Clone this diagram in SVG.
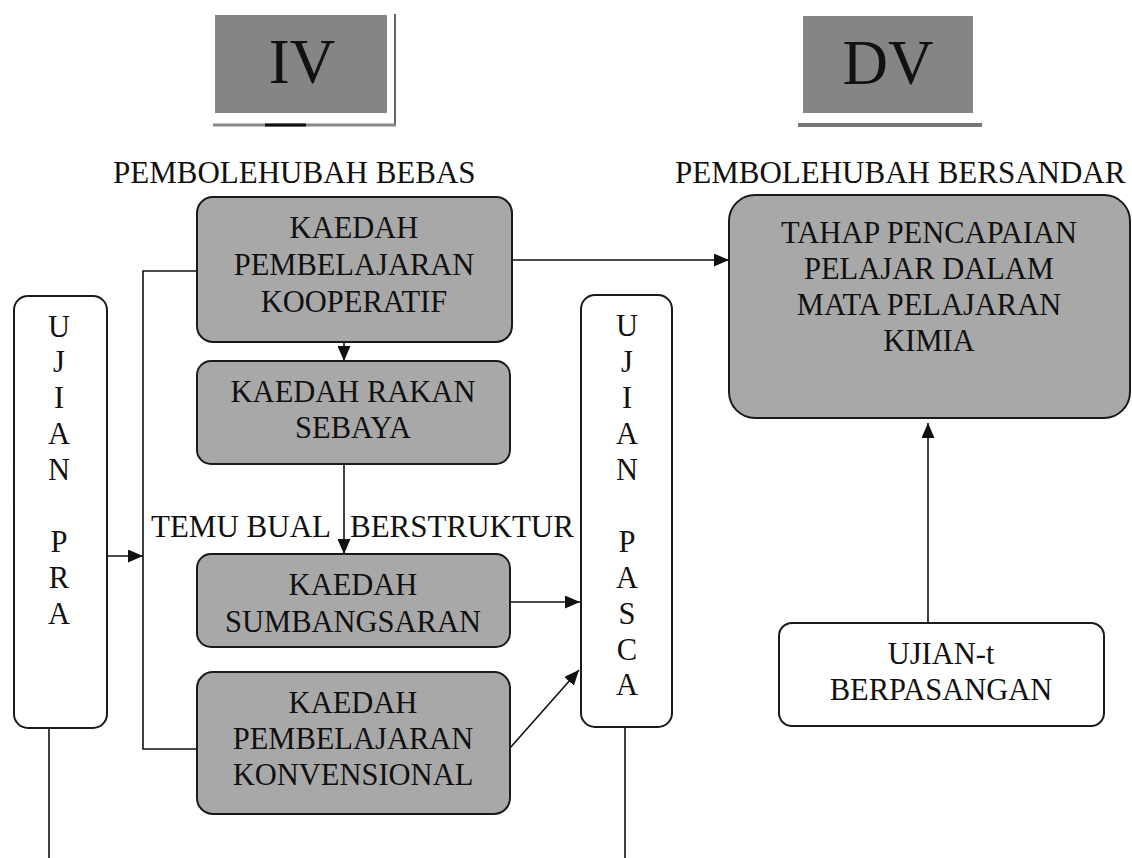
<svg xmlns="http://www.w3.org/2000/svg" width="1132" height="858" viewBox="0 0 1132 858" font-family="'Liberation Serif', 'Times New Roman', 'DejaVu Serif', serif">
<style>
text{font-family:'Liberation Serif','Times New Roman','DejaVu Serif',serif;fill:#111;}
.t{font-size:30.5px;text-anchor:middle;}
.lab{font-size:31px;}
.big{font-size:63px;text-anchor:middle;}
.g{fill:#a8a8a8;stroke:#1a1a1a;stroke-width:2;}
.w{fill:#fff;stroke:#1a1a1a;stroke-width:2;}
.c{fill:none;stroke:#111;stroke-width:1.6;}
</style>
<defs>
<marker id="ah" markerWidth="15" markerHeight="13" refX="15" refY="6.5" orient="auto" markerUnits="userSpaceOnUse">
<path d="M0,0 L15,6.5 L0,13 Z" fill="#111"/>
</marker>
</defs>
<rect width="1132" height="858" fill="#fff"/>

<g id="iv">
<rect x="215" y="15" width="172" height="98" fill="#858585"/>
<line x1="395" y1="14" x2="395" y2="126" stroke="#333" stroke-width="1.5"/>
<line x1="213" y1="125" x2="396" y2="125" stroke="#888" stroke-width="3"/>
<line x1="265" y1="125" x2="306" y2="125" stroke="#111" stroke-width="3"/>
<text class="big" x="302" y="83">IV</text>
</g>
<g id="dv">
<rect x="803" y="16" width="170" height="97" fill="#858585"/>
<line x1="798" y1="125" x2="982" y2="125" stroke="#777" stroke-width="4"/>
<text class="big" x="888" y="84">DV</text>
</g>
<text class="lab" x="113" y="183">PEMBOLEHUBAH BEBAS</text>
<text class="lab" x="675" y="183">PEMBOLEHUBAH BERSANDAR</text>

<g id="connectors">
<line class="c" x1="512" y1="260" x2="729" y2="260" marker-end="url(#ah)"/>
<line class="c" x1="344" y1="342" x2="344" y2="361" marker-end="url(#ah)"/>
<line class="c" x1="344" y1="464" x2="344" y2="554" marker-end="url(#ah)"/>
<polyline class="c" points="197,271 143,271 143,749 197,749"/>
<line class="c" x1="107" y1="556" x2="143" y2="556" marker-end="url(#ah)"/>
<line class="c" x1="510" y1="602" x2="580" y2="602" marker-end="url(#ah)"/>
<line class="c" x1="510" y1="748" x2="579" y2="670" marker-end="url(#ah)"/>
<line class="c" x1="928" y1="623" x2="928" y2="423" marker-end="url(#ah)"/>
<line class="c" x1="49" y1="728" x2="49" y2="858"/>
<line class="c" x1="625" y1="727" x2="625" y2="858"/>
</g>

<g id="kooperatif">
<rect class="g" x="197" y="197" width="315" height="145" rx="16"/>
<text class="t" x="354" y="238">KAEDAH</text>
<text class="t" x="354" y="275">PEMBELAJARAN</text>
<text class="t" x="354" y="312">KOOPERATIF</text>
</g>
<g id="rakan">
<rect class="g" x="197" y="361" width="313" height="103" rx="14"/>
<text class="t" x="353" y="402">KAEDAH RAKAN</text>
<text class="t" x="353" y="438">SEBAYA</text>
</g>
<g id="temu">
<text class="lab" x="151" y="537" font-size="30.5">TEMU BUAL</text>
<text class="lab" x="350" y="537" font-size="30.5">BERSTRUKTUR</text>
</g>
<g id="sumbang">
<rect class="g" x="197" y="554" width="313" height="93" rx="14"/>
<text class="t" x="353" y="595">KAEDAH</text>
<text class="t" x="353" y="632">SUMBANGSARAN</text>
</g>
<g id="konvensional">
<rect class="g" x="197" y="672" width="313" height="142" rx="16"/>
<text class="t" x="353" y="713">KAEDAH</text>
<text class="t" x="353" y="749">PEMBELAJARAN</text>
<text class="t" x="353" y="785">KONVENSIONAL</text>
</g>
<g id="pra">
<rect class="w" x="14" y="296" width="93" height="432" rx="14"/>
<text class="t" x="59" y="337">U</text>
<text class="t" x="59" y="372">J</text>
<text class="t" x="59" y="408">I</text>
<text class="t" x="59" y="444">A</text>
<text class="t" x="59" y="480">N</text>
<text class="t" x="59" y="552">P</text>
<text class="t" x="59" y="588">R</text>
<text class="t" x="59" y="624">A</text>
</g>
<g id="pasca">
<rect class="w" x="581" y="295" width="91" height="432" rx="14"/>
<text class="t" x="627" y="336">U</text>
<text class="t" x="627" y="372">J</text>
<text class="t" x="627" y="408">I</text>
<text class="t" x="627" y="444">A</text>
<text class="t" x="627" y="480">N</text>
<text class="t" x="627" y="552">P</text>
<text class="t" x="627" y="588">A</text>
<text class="t" x="627" y="624">S</text>
<text class="t" x="627" y="660">C</text>
<text class="t" x="627" y="695">A</text>
</g>
<g id="tahap">
<rect class="g" x="729" y="195" width="401" height="223" rx="26"/>
<text class="t" x="929" y="243">TAHAP PENCAPAIAN</text>
<text class="t" x="929" y="279">PELAJAR DALAM</text>
<text class="t" x="929" y="315">MATA PELAJARAN</text>
<text class="t" x="929" y="351">KIMIA</text>
</g>
<g id="ujiant">
<rect class="w" x="779" y="623" width="325" height="103" rx="13"/>
<text class="t" x="941" y="664">UJIAN-t</text>
<text class="t" x="941" y="700">BERPASANGAN</text>
</g>
</svg>
